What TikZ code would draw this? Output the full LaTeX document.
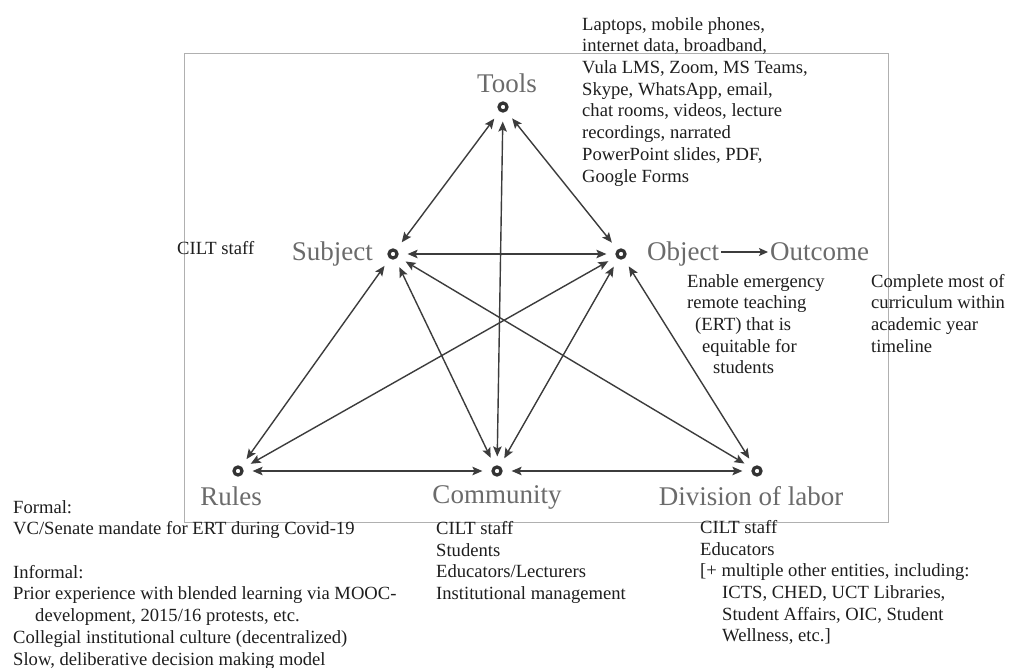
\documentclass[tikz,border=0pt]{standalone}
\usepackage{fontspec}
\setmainfont{Liberation Serif}
\usetikzlibrary{arrows.meta}
\definecolor{dotc}{HTML}{333333}
\definecolor{lblc}{HTML}{6B6B6B}
\definecolor{txtc}{HTML}{1E1E1E}
\definecolor{linec}{HTML}{3C3C3C}
\definecolor{boxc}{HTML}{B0B0B0}
\begin{document}
\begin{tikzpicture}[x=1pt,y=-1pt,
  dot/.style={circle,draw=dotc,line width=3.2pt,minimum size=8pt,inner sep=0pt,fill=white},
  lbl/.style={text=lblc,font=\fontsize{27}{30}\selectfont,inner sep=0pt,text height=18pt,text depth=0pt},
  info/.style={text=txtc,font=\fontsize{18.6}{21.7}\selectfont,inner sep=0pt,align=left,anchor=north west},
  tip/.tip={Stealth[length=10pt,width=8.5pt,inset=2pt]},
  rel/.style={draw=linec,line width=1.4pt,tip-tip,shorten <=9pt,shorten >=9pt}
]
\useasboundingbox (0,0) rectangle (1011,668);
\fill[white] (0,0) rectangle (1011,668);
\draw[boxc,line width=1pt] (184,54) rectangle (888,522);

% nodes
\node[dot] (T) at (503,107) {};
\node[dot] (S) at (393,254) {};
\node[dot] (O) at (621,254) {};
\node[dot] (R) at (238,471) {};
\node[dot] (C) at (497,471) {};
\node[dot] (D) at (757,471) {};

% labels
\node[lbl,anchor=base] (Tl) at (507,93) {Tools};
\node[lbl,anchor=base east] (Sl) at (373,260) {Subject};
\node[lbl,anchor=base west] (Ol) at (647,261) {Object};
\node[lbl,anchor=base west] (Ul) at (770,261) {Outcome};
\node[lbl,anchor=base] (Rl) at (231,505) {Rules};
\node[lbl,anchor=base] (Cl) at (497,503) {Community};
\node[lbl,anchor=base] (Dl) at (751,505) {Division of labor};
\draw[draw=linec,line width=1.4pt,-{Stealth[length=9pt,width=8pt,inset=2pt]},shorten <=2pt,shorten >=2pt] (Ol.east) -- (Ul.west);

% relations
\draw[rel] (T) -- (S);
\draw[rel] (T) -- (O);
\draw[rel] (T) -- (C);
\draw[rel] (S) -- (O);
\draw[rel] (S) -- (R);
\draw[rel] (S) -- (C);
\draw[rel] (S) -- (D);
\draw[rel] (O) -- (R);
\draw[rel] (O) -- (C);
\draw[rel] (O) -- (D);
\draw[rel] (R) -- (C);
\draw[rel] (C) -- (D);

% information texts
\node[info] (toolsinfo) at (582,17) {Laptops, mobile phones,\\internet data, broadband,\\Vula LMS, Zoom, MS Teams,\\Skype, WhatsApp, email,\\chat rooms, videos, lecture\\recordings, narrated\\PowerPoint slides, PDF,\\Google Forms};
\node[info] (subjinfo) at (177,241) {CILT staff};
\node[info] (objinfo) at (687,274) {Enable emergency\\remote teaching\\\hspace*{8pt}(ERT) that is\\\hspace*{15pt}equitable for\\\hspace*{26pt}students};
\node[info] (outinfo) at (871,274) {Complete most of\\curriculum within\\academic year\\timeline};
\node[info] (rulesinfo) at (13,500) {Formal:\\VC/Senate mandate for ERT during Covid-19\\\mbox{}\\Informal:\\Prior experience with blended learning via MOOC-\\\hspace*{22pt}development, 2015/16 protests, etc.\\Collegial institutional culture (decentralized)\\Slow, deliberative decision making model};
\node[info] (comminfo) at (436,521) {CILT staff\\Students\\Educators/Lecturers\\Institutional management};
\node[info] (divinfo) at (700,520) {CILT staff\\Educators\\{[}+ multiple other entities, including:\\\hspace*{22pt}ICTS, CHED, UCT Libraries,\\\hspace*{22pt}Student Affairs, OIC, Student\\\hspace*{22pt}Wellness, etc.{]}};
\end{tikzpicture}
\end{document}
